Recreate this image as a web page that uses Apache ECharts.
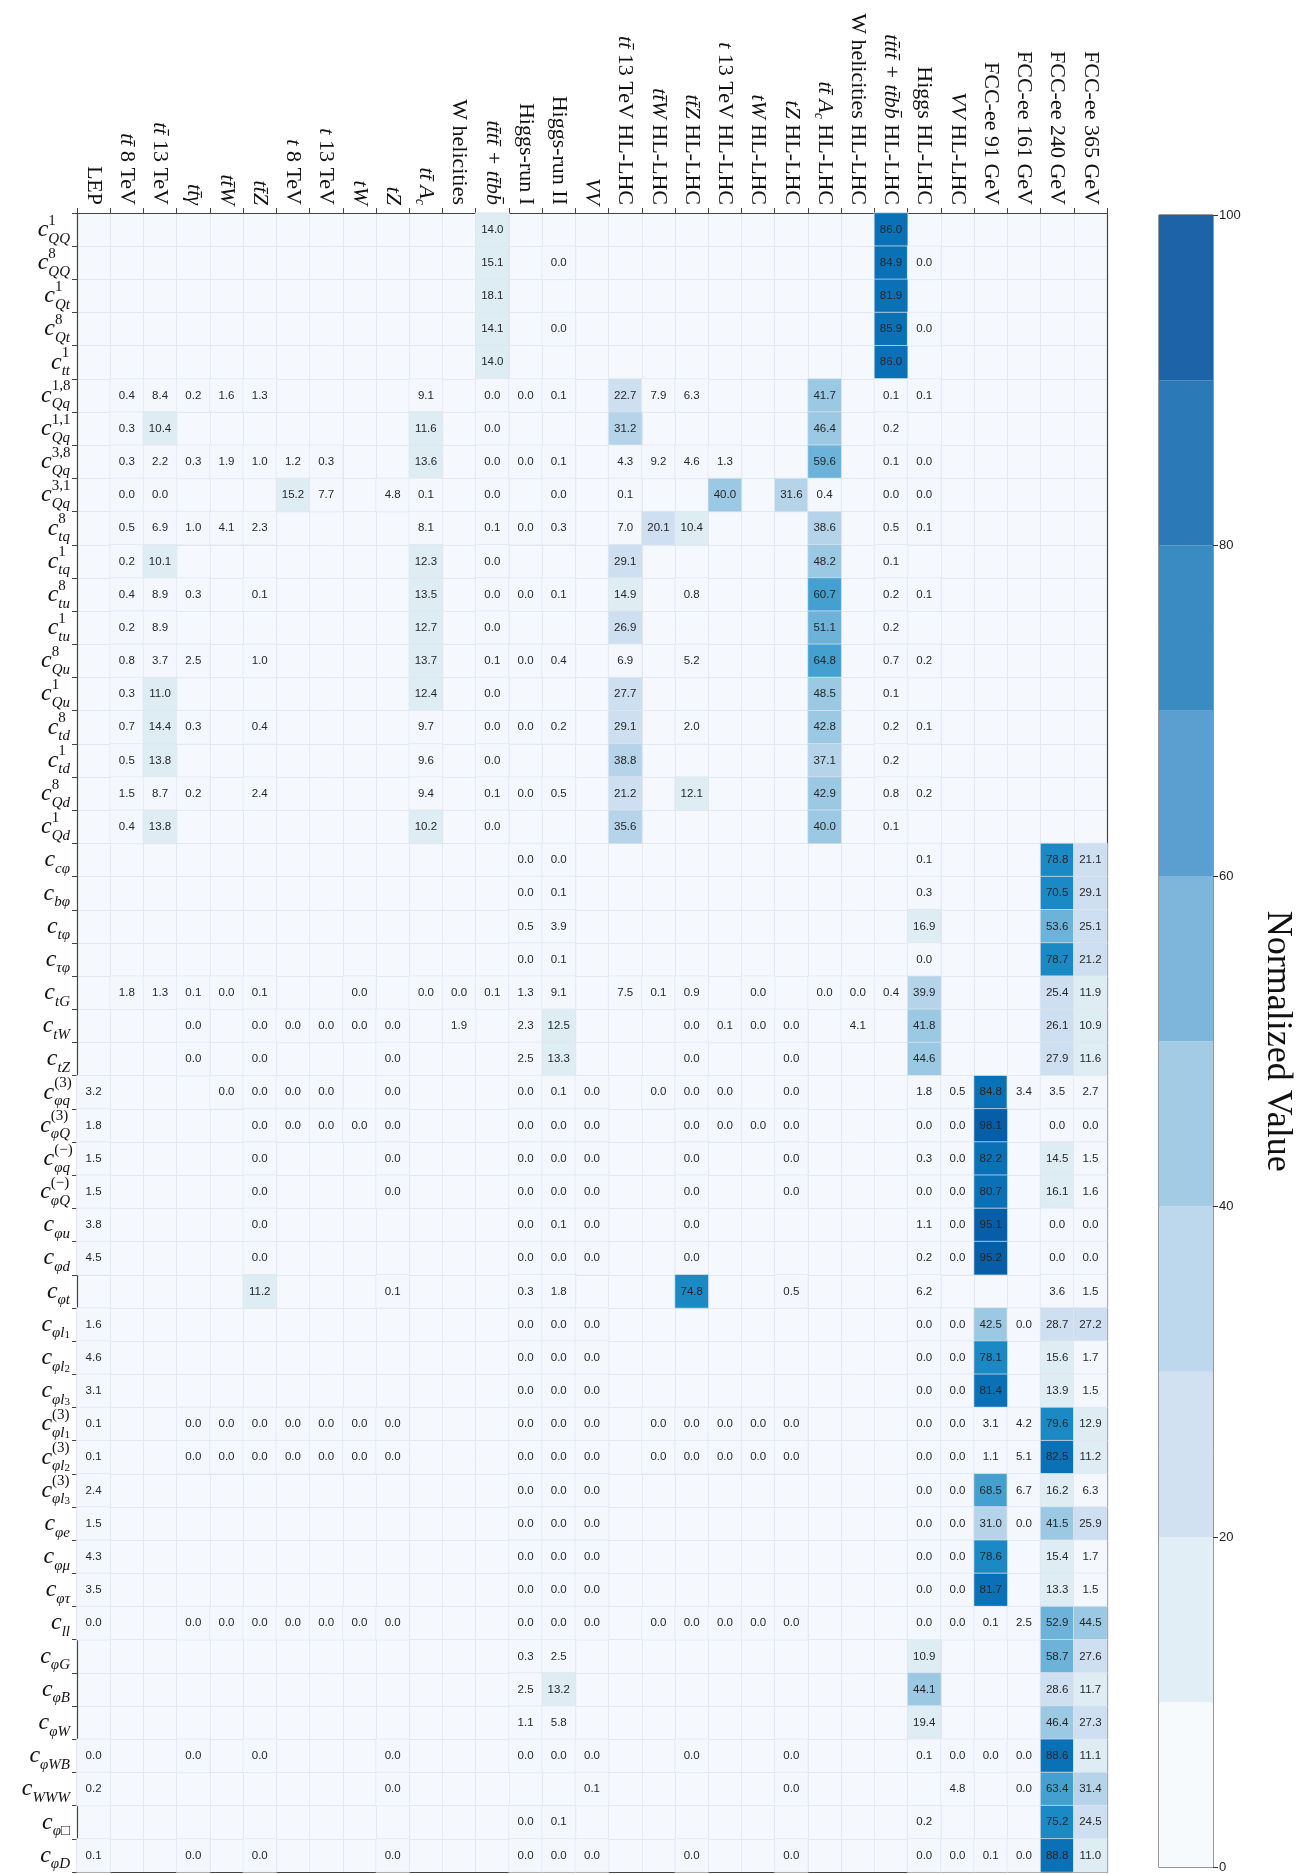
<!DOCTYPE html>
<html>
<head>
<meta charset="utf-8">
<script src="https://cdn.jsdelivr.net/npm/echarts@6/dist/echarts.min.js"></script>
<style>
  html, body { margin: 0; padding: 0; background: #fff; }
  #chart { width: 1299px; height: 1874px; }
</style>
</head>
<body>
<div id="chart"></div>
<script>
var _ = null;

// column headers (datasets)
var datasets = [
  'LEP', '{i|tt\u0304} 8 TeV', '{i|tt\u0304} 13 TeV', '{i|tt\u0304\u03b3}', '{i|tt\u0304W}', '{i|tt\u0304Z}',
  '{i|t} 8 TeV', '{i|t} 13 TeV', '{i|tW}', '{i|tZ}', '{i|tt\u0304 A}{s|c}', 'W helicities',
  '{i|tt\u0304tt\u0304 + tt\u0304bb\u0304}', 'Higgs-run I', 'Higgs-run II', '{i|VV}',
  '{i|tt\u0304} 13 TeV HL-LHC', '{i|tt\u0304W} HL-LHC', '{i|tt\u0304Z} HL-LHC', '{i|t} 13 TeV HL-LHC',
  '{i|tW} HL-LHC', '{i|tZ} HL-LHC', '{i|tt\u0304 A}{s|c} HL-LHC', 'W helicities HL-LHC',
  '{i|tt\u0304tt\u0304 + tt\u0304bb\u0304} HL-LHC', 'Higgs HL-LHC', '{i|VV} HL-LHC',
  'FCC-ee 91 GeV', 'FCC-ee 161 GeV', 'FCC-ee 240 GeV', 'FCC-ee 365 GeV'
];

// row labels (Wilson coefficients)
var coefficients = [
  '{c|c}{p|1}{b|QQ}', '{c|c}{p|8}{b|QQ}', '{c|c}{p|1}{b|Qt}', '{c|c}{p|8}{b|Qt}', '{c|c}{p|1}{b|tt}',
  '{c|c}{p|1,8}{b|Qq}', '{c|c}{p|1,1}{b|Qq}', '{c|c}{p|3,8}{b|Qq}', '{c|c}{p|3,1}{b|Qq}',
  '{c|c}{p|8}{b|tq}', '{c|c}{p|1}{b|tq}', '{c|c}{p|8}{b|tu}', '{c|c}{p|1}{b|tu}',
  '{c|c}{p|8}{b|Qu}', '{c|c}{p|1}{b|Qu}', '{c|c}{p|8}{b|td}', '{c|c}{p|1}{b|td}',
  '{c|c}{p|8}{b|Qd}', '{c|c}{p|1}{b|Qd}',
  '{c|c}{b|c\u03c6}', '{c|c}{b|b\u03c6}', '{c|c}{b|t\u03c6}', '{c|c}{b|\u03c4\u03c6}',
  '{c|c}{b|tG}', '{c|c}{b|tW}', '{c|c}{b|tZ}',
  '{c|c}{p|(3)}{b|\u03c6q}', '{c|c}{p|(3)}{b|\u03c6Q}', '{c|c}{p|(\u2212)}{b|\u03c6q}', '{c|c}{p|(\u2212)}{b|\u03c6Q}',
  '{c|c}{b|\u03c6u}', '{c|c}{b|\u03c6d}', '{c|c}{b|\u03c6t}',
  '{c|c}{b|\u03c6l}{bb|1}', '{c|c}{b|\u03c6l}{bb|2}', '{c|c}{b|\u03c6l}{bb|3}',
  '{c|c}{p|(3)}{b|\u03c6l}{bb|1}', '{c|c}{p|(3)}{b|\u03c6l}{bb|2}', '{c|c}{p|(3)}{b|\u03c6l}{bb|3}',
  '{c|c}{b|\u03c6e}', '{c|c}{b|\u03c6\u03bc}', '{c|c}{b|\u03c6\u03c4}', '{c|c}{b|ll}',
  '{c|c}{b|\u03c6G}', '{c|c}{b|\u03c6B}', '{c|c}{b|\u03c6W}', '{c|c}{b|\u03c6WB}', '{c|c}{b|WWW}',
  '{c|c}{b|\u03c6\u25a1}', '{c|c}{b|\u03c6D}'
];

// normalized values, one row per coefficient, one entry per dataset (null = not constrained)
var fourHeavy = [
  [_,_,_,_,_, _,_,_,_,_, _,_,14.0,_,_, _,_,_,_,_, _,_,_,_,86.0, _,_,_,_,_, _],
  [_,_,_,_,_, _,_,_,_,_, _,_,15.1,_,0.0, _,_,_,_,_, _,_,_,_,84.9, 0.0,_,_,_,_, _],
  [_,_,_,_,_, _,_,_,_,_, _,_,18.1,_,_, _,_,_,_,_, _,_,_,_,81.9, _,_,_,_,_, _],
  [_,_,_,_,_, _,_,_,_,_, _,_,14.1,_,0.0, _,_,_,_,_, _,_,_,_,85.9, 0.0,_,_,_,_, _],
  [_,_,_,_,_, _,_,_,_,_, _,_,14.0,_,_, _,_,_,_,_, _,_,_,_,86.0, _,_,_,_,_, _]
];
var twoHeavyTwoLight = [
  [_,0.4,8.4,0.2,1.6, 1.3,_,_,_,_, 9.1,_,0.0,0.0,0.1, _,22.7,7.9,6.3,_, _,_,41.7,_,0.1, 0.1,_,_,_,_, _],
  [_,0.3,10.4,_,_, _,_,_,_,_, 11.6,_,0.0,_,_, _,31.2,_,_,_, _,_,46.4,_,0.2, _,_,_,_,_, _],
  [_,0.3,2.2,0.3,1.9, 1.0,1.2,0.3,_,_, 13.6,_,0.0,0.0,0.1, _,4.3,9.2,4.6,1.3, _,_,59.6,_,0.1, 0.0,_,_,_,_, _],
  [_,0.0,0.0,_,_, _,15.2,7.7,_,4.8, 0.1,_,0.0,_,0.0, _,0.1,_,_,40.0, _,31.6,0.4,_,0.0, 0.0,_,_,_,_, _],
  [_,0.5,6.9,1.0,4.1, 2.3,_,_,_,_, 8.1,_,0.1,0.0,0.3, _,7.0,20.1,10.4,_, _,_,38.6,_,0.5, 0.1,_,_,_,_, _],
  [_,0.2,10.1,_,_, _,_,_,_,_, 12.3,_,0.0,_,_, _,29.1,_,_,_, _,_,48.2,_,0.1, _,_,_,_,_, _],
  [_,0.4,8.9,0.3,_, 0.1,_,_,_,_, 13.5,_,0.0,0.0,0.1, _,14.9,_,0.8,_, _,_,60.7,_,0.2, 0.1,_,_,_,_, _],
  [_,0.2,8.9,_,_, _,_,_,_,_, 12.7,_,0.0,_,_, _,26.9,_,_,_, _,_,51.1,_,0.2, _,_,_,_,_, _],
  [_,0.8,3.7,2.5,_, 1.0,_,_,_,_, 13.7,_,0.1,0.0,0.4, _,6.9,_,5.2,_, _,_,64.8,_,0.7, 0.2,_,_,_,_, _],
  [_,0.3,11.0,_,_, _,_,_,_,_, 12.4,_,0.0,_,_, _,27.7,_,_,_, _,_,48.5,_,0.1, _,_,_,_,_, _],
  [_,0.7,14.4,0.3,_, 0.4,_,_,_,_, 9.7,_,0.0,0.0,0.2, _,29.1,_,2.0,_, _,_,42.8,_,0.2, 0.1,_,_,_,_, _],
  [_,0.5,13.8,_,_, _,_,_,_,_, 9.6,_,0.0,_,_, _,38.8,_,_,_, _,_,37.1,_,0.2, _,_,_,_,_, _],
  [_,1.5,8.7,0.2,_, 2.4,_,_,_,_, 9.4,_,0.1,0.0,0.5, _,21.2,_,12.1,_, _,_,42.9,_,0.8, 0.2,_,_,_,_, _],
  [_,0.4,13.8,_,_, _,_,_,_,_, 10.2,_,0.0,_,_, _,35.6,_,_,_, _,_,40.0,_,0.1, _,_,_,_,_, _]
];
var yukawaDipole = [
  [_,_,_,_,_, _,_,_,_,_, _,_,_,0.0,0.0, _,_,_,_,_, _,_,_,_,_, 0.1,_,_,_,78.8, 21.1],
  [_,_,_,_,_, _,_,_,_,_, _,_,_,0.0,0.1, _,_,_,_,_, _,_,_,_,_, 0.3,_,_,_,70.5, 29.1],
  [_,_,_,_,_, _,_,_,_,_, _,_,_,0.5,3.9, _,_,_,_,_, _,_,_,_,_, 16.9,_,_,_,53.6, 25.1],
  [_,_,_,_,_, _,_,_,_,_, _,_,_,0.0,0.1, _,_,_,_,_, _,_,_,_,_, 0.0,_,_,_,78.7, 21.2],
  [_,1.8,1.3,0.1,0.0, 0.1,_,_,0.0,_, 0.0,0.0,0.1,1.3,9.1, _,7.5,0.1,0.9,_, 0.0,_,0.0,0.0,0.4, 39.9,_,_,_,25.4, 11.9],
  [_,_,_,0.0,_, 0.0,0.0,0.0,0.0,0.0, _,1.9,_,2.3,12.5, _,_,_,0.0,0.1, 0.0,0.0,_,4.1,_, 41.8,_,_,_,26.1, 10.9],
  [_,_,_,0.0,_, 0.0,_,_,_,0.0, _,_,_,2.5,13.3, _,_,_,0.0,_, _,0.0,_,_,_, 44.6,_,_,_,27.9, 11.6]
];
var currents = [
  [3.2,_,_,_,0.0, 0.0,0.0,0.0,_,0.0, _,_,_,0.0,0.1, 0.0,_,0.0,0.0,0.0, _,0.0,_,_,_, 1.8,0.5,84.8,3.4,3.5, 2.7],
  [1.8,_,_,_,_, 0.0,0.0,0.0,0.0,0.0, _,_,_,0.0,0.0, 0.0,_,_,0.0,0.0, 0.0,0.0,_,_,_, 0.0,0.0,98.1,_,0.0, 0.0],
  [1.5,_,_,_,_, 0.0,_,_,_,0.0, _,_,_,0.0,0.0, 0.0,_,_,0.0,_, _,0.0,_,_,_, 0.3,0.0,82.2,_,14.5, 1.5],
  [1.5,_,_,_,_, 0.0,_,_,_,0.0, _,_,_,0.0,0.0, 0.0,_,_,0.0,_, _,0.0,_,_,_, 0.0,0.0,80.7,_,16.1, 1.6],
  [3.8,_,_,_,_, 0.0,_,_,_,_, _,_,_,0.0,0.1, 0.0,_,_,0.0,_, _,_,_,_,_, 1.1,0.0,95.1,_,0.0, 0.0],
  [4.5,_,_,_,_, 0.0,_,_,_,_, _,_,_,0.0,0.0, 0.0,_,_,0.0,_, _,_,_,_,_, 0.2,0.0,95.2,_,0.0, 0.0],
  [_,_,_,_,_, 11.2,_,_,_,0.1, _,_,_,0.3,1.8, _,_,_,74.8,_, _,0.5,_,_,_, 6.2,_,_,_,3.6, 1.5],
  [1.6,_,_,_,_, _,_,_,_,_, _,_,_,0.0,0.0, 0.0,_,_,_,_, _,_,_,_,_, 0.0,0.0,42.5,0.0,28.7, 27.2],
  [4.6,_,_,_,_, _,_,_,_,_, _,_,_,0.0,0.0, 0.0,_,_,_,_, _,_,_,_,_, 0.0,0.0,78.1,_,15.6, 1.7],
  [3.1,_,_,_,_, _,_,_,_,_, _,_,_,0.0,0.0, 0.0,_,_,_,_, _,_,_,_,_, 0.0,0.0,81.4,_,13.9, 1.5],
  [0.1,_,_,0.0,0.0, 0.0,0.0,0.0,0.0,0.0, _,_,_,0.0,0.0, 0.0,_,0.0,0.0,0.0, 0.0,0.0,_,_,_, 0.0,0.0,3.1,4.2,79.6, 12.9],
  [0.1,_,_,0.0,0.0, 0.0,0.0,0.0,0.0,0.0, _,_,_,0.0,0.0, 0.0,_,0.0,0.0,0.0, 0.0,0.0,_,_,_, 0.0,0.0,1.1,5.1,82.5, 11.2],
  [2.4,_,_,_,_, _,_,_,_,_, _,_,_,0.0,0.0, 0.0,_,_,_,_, _,_,_,_,_, 0.0,0.0,68.5,6.7,16.2, 6.3],
  [1.5,_,_,_,_, _,_,_,_,_, _,_,_,0.0,0.0, 0.0,_,_,_,_, _,_,_,_,_, 0.0,0.0,31.0,0.0,41.5, 25.9],
  [4.3,_,_,_,_, _,_,_,_,_, _,_,_,0.0,0.0, 0.0,_,_,_,_, _,_,_,_,_, 0.0,0.0,78.6,_,15.4, 1.7],
  [3.5,_,_,_,_, _,_,_,_,_, _,_,_,0.0,0.0, 0.0,_,_,_,_, _,_,_,_,_, 0.0,0.0,81.7,_,13.3, 1.5],
  [0.0,_,_,0.0,0.0, 0.0,0.0,0.0,0.0,0.0, _,_,_,0.0,0.0, 0.0,_,0.0,0.0,0.0, 0.0,0.0,_,_,_, 0.0,0.0,0.1,2.5,52.9, 44.5]
];
var bosonic = [
  [_,_,_,_,_, _,_,_,_,_, _,_,_,0.3,2.5, _,_,_,_,_, _,_,_,_,_, 10.9,_,_,_,58.7, 27.6],
  [_,_,_,_,_, _,_,_,_,_, _,_,_,2.5,13.2, _,_,_,_,_, _,_,_,_,_, 44.1,_,_,_,28.6, 11.7],
  [_,_,_,_,_, _,_,_,_,_, _,_,_,1.1,5.8, _,_,_,_,_, _,_,_,_,_, 19.4,_,_,_,46.4, 27.3],
  [0.0,_,_,0.0,_, 0.0,_,_,_,0.0, _,_,_,0.0,0.0, 0.0,_,_,0.0,_, _,0.0,_,_,_, 0.1,0.0,0.0,0.0,88.6, 11.1],
  [0.2,_,_,_,_, _,_,_,_,0.0, _,_,_,_,_, 0.1,_,_,_,_, _,0.0,_,_,_, _,4.8,_,0.0,63.4, 31.4],
  [_,_,_,_,_, _,_,_,_,_, _,_,_,0.0,0.1, _,_,_,_,_, _,_,_,_,_, 0.2,_,_,_,75.2, 24.5],
  [0.1,_,_,0.0,_, 0.0,_,_,_,0.0, _,_,_,0.0,0.0, 0.0,_,_,0.0,_, _,0.0,_,_,_, 0.0,0.0,0.1,0.0,88.8, 11.0]
];

// colour scale: 10 equal bins between 0 and 100
var binEdges = [0, 10, 20, 30, 40, 50, 60, 70, 80, 90, 100];
var binColors = ['#f4f8fd', '#deecf4', '#cddff0', '#b5d4ea', '#9bc8e2',
                 '#6db2d8', '#44a0cf', '#1b8ac4', '#0a71b7', '#075ea8'];
// the colour bar in the original is drawn a little more muted than the cells
var barColors = ['#f6fafd', '#e2eef5', '#d2e1f1', '#bdd7ec', '#a3cbe4',
                 '#7eb6db', '#5a9fcf', '#3a8bc2', '#2b79b7', '#1c63a8'];

var SERIF = '"Liberation Serif", "DejaVu Serif", serif';
var SANS = '"Liberation Sans", Arial, sans-serif';
var INK = '#111';

var values = fourHeavy.concat(twoHeavyTwoLight, yukawaDipole, currents, bosonic);
var cells = [];
values.forEach(function (row, r) {
  row.forEach(function (v, c) {
    if (v !== null) cells.push([c, r, v]);
  });
});

var pieces = [];
for (var i = 0; i < binColors.length; i++) {
  var piece = { gte: binEdges[i], color: binColors[i] };
  if (i < binColors.length - 1) piece.lt = binEdges[i + 1]; else piece.lte = binEdges[i + 1];
  pieces.push(piece);
}

var myChart = echarts.init(document.getElementById('chart'));

var headRich = {
  i: { fontFamily: SERIF, fontStyle: 'italic', fontSize: 22, color: INK, lineHeight: 26 },
  s: { fontFamily: SERIF, fontStyle: 'italic', fontSize: 14, color: INK, lineHeight: 15, verticalAlign: 'bottom' }
};
// sup token has zero width so that the subscript sits right under it
var rowRich = {
  c: { fontFamily: SERIF, fontStyle: 'italic', fontSize: 24, color: INK, lineHeight: 33, align: 'left' },
  p: { fontFamily: SERIF, fontSize: 15, color: INK, lineHeight: 22, verticalAlign: 'top', width: 0, align: 'left' },
  b: { fontFamily: SERIF, fontStyle: 'italic', fontSize: 15, color: INK, lineHeight: 16, verticalAlign: 'bottom', align: 'left' },
  bb: { fontFamily: SERIF, fontSize: 11, color: INK, lineHeight: 10, verticalAlign: 'bottom', align: 'left' }
};

var series = [{
  type: 'heatmap',
  xAxisIndex: 0,
  yAxisIndex: 0,
  data: cells,
  label: {
    show: true,
    fontFamily: SANS,
    fontSize: 11.5,
    color: '#262626',
    formatter: function (p) { return p.value[2].toFixed(1); }
  },
  itemStyle: { borderColor: 'rgba(225,230,238,0.7)', borderWidth: 1 },
  emphasis: { disabled: true },
  silent: true
}];

// colour bar: stacked bins on a value axis
for (var k = 0; k < barColors.length; k++) {
  series.push({
    type: 'bar',
    xAxisIndex: 2,
    yAxisIndex: 2,
    stack: 'cb',
    data: [binEdges[k + 1] - binEdges[k]],
    barWidth: '100%',
    itemStyle: { color: barColors[k] },
    silent: true
  });
}

var option = {
  backgroundColor: '#fff',
  animation: false,
  grid: [
    { left: 77, top: 213, width: 1030, height: 1659, show: true, backgroundColor: '#f5f9fe', borderWidth: 0 },
    { left: 1159, top: 215, width: 54, height: 1657, show: true, borderColor: '#333', borderWidth: 1 }
  ],
  xAxis: [
    {
      gridIndex: 0, type: 'category', position: 'top', data: datasets,
      axisLine: { show: true, lineStyle: { color: '#444', width: 1.2 } },
      axisTick: { show: true, length: 5, lineStyle: { color: '#444' } },
      splitLine: { show: true, lineStyle: { color: '#e4e8ee', width: 1 } },
      axisLabel: {
        interval: 0, rotate: 90, margin: 8,
        fontFamily: SERIF, fontSize: 22, color: INK, lineHeight: 26,
        rich: headRich
      }
    },
    {
      gridIndex: 0, type: 'category', position: 'bottom', data: datasets,
      axisLine: { show: true, lineStyle: { color: '#444', width: 1.2 } },
      axisTick: { show: false }, axisLabel: { show: false }, splitLine: { show: false }
    },
    {
      gridIndex: 1, type: 'category', data: ['scale'],
      axisLine: { show: false }, axisTick: { show: false }, axisLabel: { show: false }
    }
  ],
  yAxis: [
    {
      gridIndex: 0, type: 'category', inverse: true, data: coefficients,
      axisLine: { show: true, lineStyle: { color: '#444', width: 1.2 } },
      axisTick: { show: true, length: 5, lineStyle: { color: '#444' } },
      splitLine: { show: true, lineStyle: { color: '#e4e8ee', width: 1 } },
      axisLabel: { interval: 0, margin: 7, align: 'right', rich: rowRich }
    },
    {
      gridIndex: 0, type: 'category', inverse: true, data: coefficients, position: 'right',
      axisLine: { show: true, lineStyle: { color: '#444', width: 1.2 } },
      axisTick: { show: false }, axisLabel: { show: false }, splitLine: { show: false }
    },
    {
      gridIndex: 1, type: 'value', min: 0, max: 100, interval: 20, position: 'right',
      axisLine: { show: false },
      axisTick: { show: true, length: 5, lineStyle: { color: '#333' } },
      splitLine: { show: false },
      axisLabel: { margin: 6, fontFamily: SANS, fontSize: 13, color: '#222' },
      name: 'Normalized Value', nameLocation: 'middle', nameRotate: -90, nameGap: 46,
      nameTextStyle: { fontFamily: SERIF, fontSize: 36, color: INK }
    }
  ],
  visualMap: {
    type: 'piecewise', show: false, seriesIndex: 0, dimension: 2,
    pieces: pieces
  },
  series: series
};

myChart.setOption(option);
</script>
</body>
</html>
